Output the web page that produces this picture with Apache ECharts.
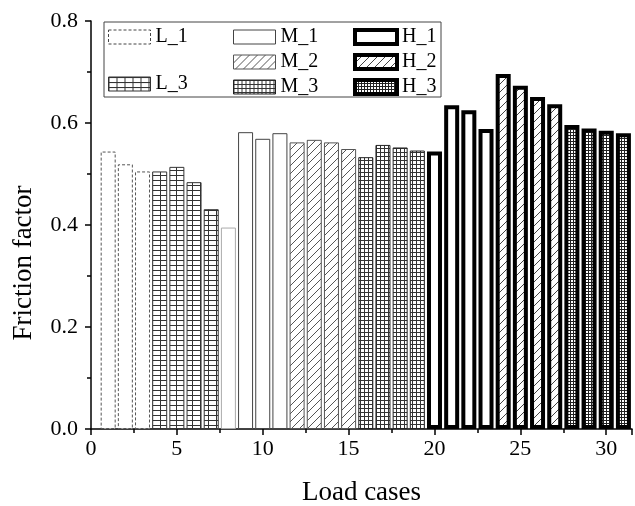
<!DOCTYPE html>
<html>
<head>
<meta charset="utf-8">
<script src="https://cdn.jsdelivr.net/npm/echarts@6/dist/echarts.min.js"></script>
<style>
  html, body { margin: 0; padding: 0; background: #fff; }
  #chart { width: 635px; height: 506px; }
</style>
</head>
<body>
<div id="chart"></div>
<script>
// load case numbers and friction factors, one pair of arrays per group
var l1Cases = [1, 2, 3];
var l1Vals = [0.544, 0.519, 0.505];
var l3Cases = [4, 5, 6, 7];
var l3Vals = [0.505, 0.514, 0.484, 0.431];
var l2Cases = [8];
var l2Vals = [0.395];
var m1Cases = [9, 10, 11];
var m1Vals = [0.582, 0.569, 0.580];
var m2Cases = [12, 13, 14, 15];
var m2Vals = [0.562, 0.567, 0.562, 0.549];
var m3Cases = [16, 17, 18, 19];
var m3Vals = [0.533, 0.557, 0.552, 0.546];
var h1Cases = [20, 21, 22, 23];
var h1Vals = [0.544, 0.635, 0.625, 0.588];
var h2Cases = [24, 25, 26, 27];
var h2Vals = [0.696, 0.673, 0.651, 0.637];
var h3Cases = [28, 29, 30, 31];
var h3Vals = [0.596, 0.589, 0.585, 0.580];

var font = 'Liberation Serif';

function pattern(w, h, draw) {
	var c = document.createElement('canvas');
	c.width = w;
	c.height = h;
	var ctx = c.getContext('2d');
	ctx.fillStyle = '#fff';
	ctx.fillRect(0, 0, w, h);
	draw(ctx);
	return { image: c, repeat: 'repeat' };
}

function grid(w, h, col) {
	return pattern(w, h, function(ctx) {
		ctx.strokeStyle = col;
		ctx.lineWidth = 1;
		ctx.beginPath();
		ctx.moveTo(0, 0.5); ctx.lineTo(w, 0.5);
		ctx.moveTo(0.5, 0); ctx.lineTo(0.5, h);
		ctx.stroke();
	});
}

function hatch(s, col) {
	return pattern(s, s, function(ctx) {
		ctx.strokeStyle = col;
		ctx.lineWidth = 1;
		ctx.beginPath();
		ctx.moveTo(-1, s + 1); ctx.lineTo(s + 1, -1);
		ctx.stroke();
	});
}

function pairs(xs, ys) {
	return xs.map(function(x, i) { return [x, ys[i]]; });
}

function bar(name, xs, ys, style) {
	return {
		name: name,
		type: 'bar',
		barWidth: 15,
		barGap: '-100%',
		data: pairs(xs, ys),
		itemStyle: style
	};
}

var chart = echarts.init(document.getElementById('chart'));

var legendBase = {
	orient: 'vertical',
	padding: 0,
	itemWidth: 42,
	itemHeight: 14,
	itemGap: 5,
	icon: 'rect',
	selectedMode: false,
	textStyle: { fontFamily: font, fontSize: 20, color: '#000' },
	itemStyle: { borderWidth: 'inherit' }
};

function legend(left, top, names) {
	return Object.assign({}, legendBase, { left: left, top: top, data: names });
}

var tickFont = { fontFamily: font, fontSize: 22, color: '#000' };
var nameFont = { fontFamily: font, fontSize: 27, color: '#000' };

chart.setOption({
	animation: false,
	backgroundColor: '#fff',
	grid: { left: 91, right: 3, top: 21, bottom: 77, outerBoundsMode: 'none', containLabel: false },
	graphic: [{
		type: 'rect',
		shape: { x: 104, y: 22, width: 337, height: 75 },
		style: { fill: 'none', stroke: '#444', lineWidth: 1 },
		z: 10
	}],
	legend: [
		legend(108, 27, [{ name: 'L_1', itemStyle: { borderType: [3, 2], borderColor: '#444' } }]),
		legend(108, 74, ['L_3']),
		legend(233, 27, ['M_1', 'M_2', 'M_3']),
		legend(353, 27, ['H_1', 'H_2', 'H_3'])
	],
	xAxis: {
		type: 'value',
		min: 0,
		max: 31.5,
		interval: 5,
		name: 'Load cases',
		nameLocation: 'middle',
		nameGap: 50,
		nameTextStyle: nameFont,
		axisLine: { lineStyle: { color: '#000', width: 1.5 } },
		axisTick: { length: 6, lineStyle: { color: '#000', width: 1.5 } },
		minorTick: { show: true, splitNumber: 2, length: 4, lineStyle: { color: '#000', width: 1.5 } },
		axisLabel: Object.assign({ margin: 9, showMaxLabel: false }, tickFont),
		splitLine: { show: false }
	},
	yAxis: {
		type: 'value',
		min: 0,
		max: 0.8,
		interval: 0.2,
		name: 'Friction factor',
		nameLocation: 'middle',
		nameGap: 54,
		nameTextStyle: Object.assign({ padding: [0, 76, 0, 0] }, nameFont),
		axisLine: { show: true, lineStyle: { color: '#000', width: 1.5 } },
		axisTick: { show: true, length: 6, lineStyle: { color: '#000', width: 1.5 } },
		minorTick: { show: true, splitNumber: 2, length: 4, lineStyle: { color: '#000', width: 1.5 } },
		axisLabel: Object.assign({
			margin: 13,
			formatter: function(v) { return v.toFixed(1); }
		}, tickFont),
		splitLine: { show: false }
	},
	series: [
		bar('L_1', l1Cases, l1Vals, { color: '#fff', borderColor: '#555', borderWidth: 1, borderType: [3, 2] }),
		bar('L_3', l3Cases, l3Vals, { color: grid(8, 5, '#333'), borderColor: '#333', borderWidth: 1 }),
		bar('L_2', l2Cases, l2Vals, { color: '#fff', borderColor: '#aaa', borderWidth: 1 }),
		bar('M_1', m1Cases, m1Vals, { color: '#fff', borderColor: '#444', borderWidth: 1 }),
		bar('M_2', m2Cases, m2Vals, { color: hatch(8, '#555'), borderColor: '#555', borderWidth: 1 }),
		bar('M_3', m3Cases, m3Vals, { color: grid(4, 4, '#333'), borderColor: '#222', borderWidth: 1 }),
		bar('H_1', h1Cases, h1Vals, { color: '#fff', borderColor: '#000', borderWidth: 4 }),
		bar('H_2', h2Cases, h2Vals, { color: hatch(8, '#444'), borderColor: '#000', borderWidth: 4 }),
		bar('H_3', h3Cases, h3Vals, { color: grid(3, 3, '#222'), borderColor: '#000', borderWidth: 4 })
	]
});
</script>
</body>
</html>
